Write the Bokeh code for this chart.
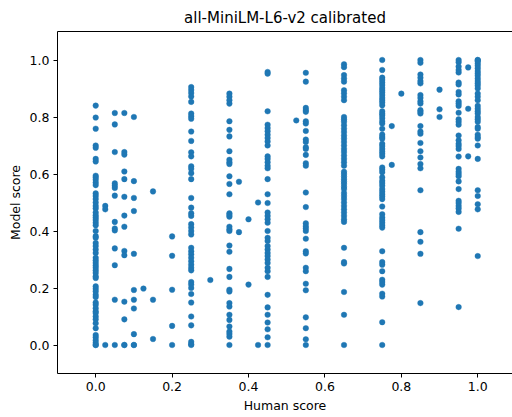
from bokeh.plotting import figure
from bokeh.models import Range1d, LinearAxis, FixedTicker, PrintfTickFormatter, ColumnDataSource
from bokeh.embed import file_html
from bokeh.resources import INLINE

# Human score columns and the model scores observed at each
h_000 = 0.0
m_000 = [0.840, 0.798, 0.759, 0.700, 0.692, 0.653, 0.644, 0.594, 0.588, 0.580, 0.570, 0.561,
         0.532, 0.523, 0.512, 0.500, 0.488, 0.479, 0.465, 0.455, 0.447, 0.439, 0.429, 0.420,
         0.400, 0.382, 0.376, 0.358, 0.347, 0.335, 0.323, 0.306, 0.297, 0.288, 0.279, 0.271,
         0.262, 0.253, 0.241, 0.235, 0.206, 0.197, 0.188, 0.176, 0.168, 0.149, 0.141, 0.129,
         0.118, 0.112, 0.100, 0.090, 0.076, 0.059, 0.035, 0.027, 0.017, 0.008, 0.0, 0.0]
h_025 = 0.025
m_025 = [0.488, 0.476, 0.0]
h_050 = 0.05
m_050 = [0.814, 0.774, 0.677, 0.567, 0.559, 0.551, 0.524, 0.432, 0.409, 0.402, 0.339, 0.280, 0.159, 0.0]
h_075 = 0.075
m_075 = [0.814, 0.677, 0.668, 0.609, 0.582, 0.520, 0.454, 0.415, 0.330, 0.315, 0.152, 0.090, 0.0, 0.0]
h_100 = 0.1
m_100 = [0.800, 0.575, 0.516, 0.470, 0.320, 0.193, 0.159, 0.128, 0.038, 0.0, 0.0]
h_125 = 0.125
m_125 = [0.198]
h_150 = 0.15
m_150 = [0.539, 0.159, 0.021]
h_200 = 0.2
m_200 = [0.381, 0.313, 0.194, 0.067, 0.0]
h_250 = 0.25
m_250 = [0.905, 0.895, 0.884, 0.872, 0.853, 0.812, 0.803, 0.794, 0.749, 0.716, 0.676, 0.662,
         0.627, 0.618, 0.603, 0.582, 0.516, 0.482, 0.462, 0.453, 0.424, 0.412, 0.400, 0.388,
         0.341, 0.329, 0.318, 0.306, 0.294, 0.282, 0.271, 0.262, 0.221, 0.212, 0.200, 0.179,
         0.149, 0.100, 0.069, 0.011, 0.003, 0.0]
h_300 = 0.3
m_300 = [0.228]
h_350 = 0.35
m_350 = [0.882, 0.871, 0.859, 0.847, 0.785, 0.755, 0.732, 0.680, 0.650, 0.641, 0.635, 0.592,
         0.565, 0.529, 0.462, 0.456, 0.450, 0.415, 0.406, 0.400, 0.349, 0.327, 0.267, 0.239,
         0.194, 0.188, 0.147, 0.135, 0.106, 0.088, 0.065, 0.047, 0.039, 0.029, 0.0]
h_375 = 0.375
m_375 = [0.573, 0.396]
h_400 = 0.4
m_400 = [0.441, 0.212]
h_425 = 0.425
m_425 = [0.500, 0.0]
h_450 = 0.45
m_450 = [0.958, 0.952, 0.820, 0.773, 0.761, 0.750, 0.738, 0.726, 0.714, 0.700, 0.662, 0.653,
         0.641, 0.629, 0.620, 0.582, 0.529, 0.498, 0.465, 0.453, 0.441, 0.429, 0.400, 0.376,
         0.365, 0.347, 0.335, 0.323, 0.312, 0.300, 0.288, 0.271, 0.259, 0.239, 0.176, 0.132,
         0.106, 0.079, 0.055, 0.027, 0.0]
h_525 = 0.525
m_525 = [0.788]
h_550 = 0.55
m_550 = [0.955, 0.924, 0.832, 0.824, 0.818, 0.785, 0.777, 0.751, 0.721, 0.712, 0.694, 0.688,
         0.667, 0.638, 0.629, 0.535, 0.484, 0.427, 0.417, 0.409, 0.400, 0.373, 0.329, 0.321,
         0.271, 0.259, 0.215, 0.192, 0.097, 0.059, 0.020, 0.0]
h_650 = 0.65
m_650 = [0.985, 0.975, 0.947, 0.935, 0.924, 0.894, 0.883, 0.871, 0.859, 0.800, 0.792, 0.783,
         0.771, 0.759, 0.747, 0.735, 0.724, 0.712, 0.700, 0.688, 0.677, 0.665, 0.653, 0.641,
         0.629, 0.608, 0.600, 0.591, 0.582, 0.573, 0.565, 0.555, 0.547, 0.533, 0.523, 0.512,
         0.500, 0.488, 0.476, 0.465, 0.453, 0.441, 0.432, 0.341, 0.291, 0.286, 0.186, 0.106, 0.0]
h_750 = 0.75
m_750 = [1.0, 0.965, 0.938, 0.930, 0.921, 0.912, 0.902, 0.894, 0.886, 0.877, 0.867, 0.859,
         0.851, 0.841, 0.820, 0.812, 0.806, 0.796, 0.785, 0.777, 0.759, 0.738, 0.730, 0.724,
         0.706, 0.698, 0.688, 0.679, 0.671, 0.662, 0.623, 0.615, 0.606, 0.588, 0.576, 0.568,
         0.559, 0.547, 0.538, 0.529, 0.521, 0.512, 0.486, 0.459, 0.447, 0.438, 0.429, 0.420,
         0.412, 0.329, 0.291, 0.282, 0.259, 0.229, 0.221, 0.212, 0.180, 0.170, 0.080, 0.0]
h_775 = 0.775
m_775 = [0.768, 0.632]
h_800 = 0.8
m_800 = [0.882]
h_850 = 0.85
m_850 = [1.0, 0.990, 0.949, 0.938, 0.926, 0.918, 0.877, 0.867, 0.855, 0.847, 0.824, 0.818,
         0.812, 0.768, 0.749, 0.741, 0.709, 0.680, 0.658, 0.635, 0.620, 0.543, 0.396, 0.362,
         0.320, 0.147]
h_900 = 0.9
m_900 = [0.896, 0.827, 0.800]
h_950 = 0.95
m_950 = [1.0, 0.992, 0.977, 0.965, 0.956, 0.921, 0.914, 0.888, 0.879, 0.855, 0.847, 0.839,
         0.815, 0.792, 0.783, 0.773, 0.735, 0.718, 0.706, 0.698, 0.688, 0.661, 0.618, 0.608,
         0.600, 0.592, 0.574, 0.547, 0.506, 0.498, 0.488, 0.479, 0.467, 0.408, 0.133]
h_975 = 0.975
m_975 = [0.974, 0.829, 0.662]
h_1000 = 1.0
m_1000 = [1.0, 1.0, 0.996, 0.988, 0.980, 0.971, 0.961, 0.953, 0.945, 0.935, 0.926, 0.918,
          0.910, 0.900, 0.882, 0.871, 0.859, 0.839, 0.829, 0.820, 0.812, 0.800, 0.792, 0.783,
          0.765, 0.759, 0.738, 0.730, 0.724, 0.700, 0.653, 0.543, 0.523, 0.494, 0.476, 0.312]

x_ticks = [0.0, 0.2, 0.4, 0.6, 0.8, 1.0]
y_ticks = [0.0, 0.2, 0.4, 0.6, 0.8, 1.0]

columns = [(h_000, m_000), (h_025, m_025), (h_050, m_050), (h_075, m_075), (h_100, m_100),
           (h_125, m_125), (h_150, m_150), (h_200, m_200), (h_250, m_250), (h_300, m_300),
           (h_350, m_350), (h_375, m_375), (h_400, m_400), (h_425, m_425), (h_450, m_450),
           (h_525, m_525), (h_550, m_550), (h_650, m_650), (h_750, m_750), (h_775, m_775),
           (h_800, m_800), (h_850, m_850), (h_900, m_900), (h_950, m_950), (h_975, m_975),
           (h_1000, m_1000)]

human = []
model = []
for hx, vals in columns:
    for v in vals:
        human.append(hx)
        model.append(v)

source = ColumnDataSource(data=dict(human=human, model=model))

FONT = "DejaVu Sans"

p = figure(width=512, height=417, output_backend="svg", toolbar_location=None,
           x_range=Range1d(-0.1, 1.091), y_range=Range1d(-0.1, 1.1),
           min_border_left=57, min_border_right=0, min_border_top=31, min_border_bottom=44,
           title="all-MiniLM-L6-v2 calibrated")
p.outline_line_color = None
p.xgrid.visible = False
p.ygrid.visible = False
p.background_fill_color = "white"
p.border_fill_color = "white"

p.title.text_font = FONT
p.title.text_font_size = "15px"
p.title.text_font_style = "normal"
p.title.text_color = "black"
p.title.align = "center"

p.scatter("human", "model", source=source, size=5.6, fill_color="#1f77b4",
          line_color="#1f77b4", line_width=0.4)

for ax, ticks, lab in ((p.xaxis[0], x_ticks, "Human score"), (p.yaxis[0], y_ticks, "Model score")):
    ax.ticker = FixedTicker(ticks=ticks)
    ax.formatter = PrintfTickFormatter(format="%.1f")
    ax.axis_label = lab
    ax.axis_label_text_font = FONT
    ax.axis_label_text_font_size = "12.5px"
    ax.axis_label_text_font_style = "normal"
    ax.axis_label_text_color = "black"
    ax.axis_label_standoff = 4
    ax.major_label_text_font = FONT
    ax.major_label_text_font_size = "12.5px"
    ax.major_label_text_color = "black"
    ax.major_label_standoff = 4
    ax.major_tick_in = 0
    ax.major_tick_out = 4
    ax.major_tick_line_color = "black"
    ax.minor_tick_line_color = None
    ax.axis_line_color = "black"
    ax.axis_line_width = 1

top = LinearAxis(ticker=FixedTicker(ticks=[]), major_tick_line_color=None,
                 minor_tick_line_color=None, major_label_text_font_size="0px",
                 axis_line_color="black", axis_line_width=1)
p.add_layout(top, "above")

open("out.html", "w").write(file_html(p, INLINE))
